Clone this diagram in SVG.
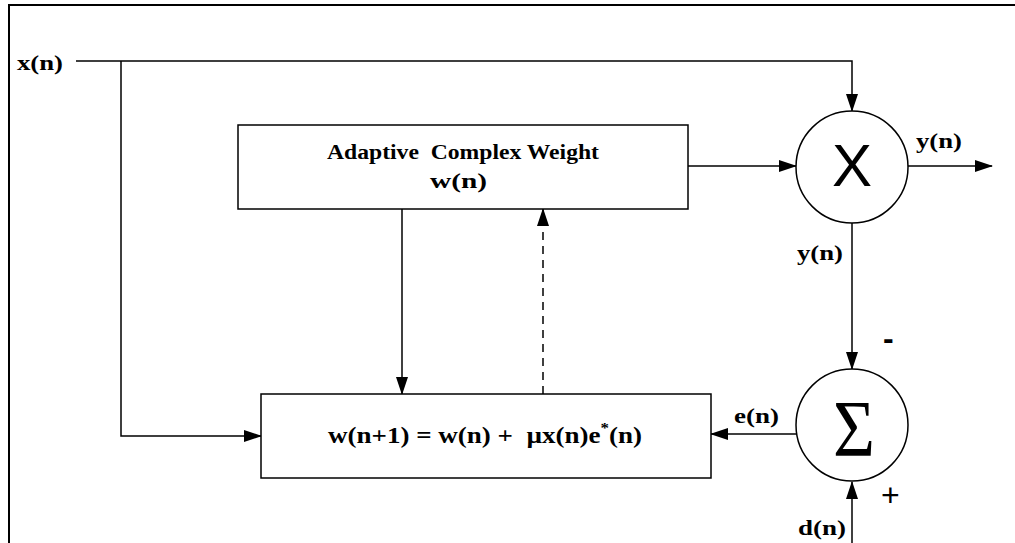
<svg xmlns="http://www.w3.org/2000/svg" width="1015" height="543" viewBox="0 0 1015 543">
<defs>
<marker id="ah" markerWidth="18" markerHeight="12" refX="17" refY="6" orient="auto" markerUnits="userSpaceOnUse">
<path d="M0,0 L18,6 L0,12 Z" fill="#000"/>
</marker>
<style>
.lbl{font-family:"Liberation Serif","Times New Roman",serif;font-weight:bold;font-size:22px;fill:#000}
.box{fill:#fff;stroke:#000;stroke-width:1.5}
.ln{fill:none;stroke:#000;stroke-width:1.5}
.sym{font-family:"Liberation Sans",Arial,sans-serif;fill:#000}
</style>
</defs>
<rect x="0" y="0" width="1015" height="543" fill="#fff"/>
<rect x="9" y="5" width="1030" height="560" fill="none" stroke="#000" stroke-width="2"/>
<g id="connectors">
<path class="ln" d="M76,61 H852 V111" marker-end="url(#ah)"/>
<path class="ln" d="M121,61 V436 H261" marker-end="url(#ah)"/>
<path class="ln" d="M688,166 H796" marker-end="url(#ah)"/>
<path class="ln" d="M908,166 H992" marker-end="url(#ah)"/>
<path class="ln" d="M402,209 V394" marker-end="url(#ah)"/>
<path class="ln" d="M543,394 V209" stroke-dasharray="8,6" marker-end="url(#ah)"/>
<path class="ln" d="M852,223 V369" marker-end="url(#ah)"/>
<path class="ln" d="M796,434 H711" marker-end="url(#ah)"/>
<path class="ln" d="M852,543 V482" marker-end="url(#ah)"/>
</g>
<g id="input-label"><text class="lbl" x="17" y="70" textLength="46" lengthAdjust="spacingAndGlyphs">x(n)</text></g>
<g id="weight-box">
<rect class="box" x="238" y="125" width="450" height="84"/>
<text class="lbl" x="327" y="159" xml:space="preserve" style="font-size:20px" textLength="272" lengthAdjust="spacingAndGlyphs">Adaptive  Complex Weight</text>
<text class="lbl" x="430" y="188" style="font-size:21px" textLength="57" lengthAdjust="spacingAndGlyphs">w(n)</text>
</g>
<g id="update-box">
<rect class="box" x="261" y="394" width="450" height="84"/>
<text class="lbl" x="328" y="443" xml:space="preserve" style="font-size:24px" textLength="314" lengthAdjust="spacingAndGlyphs">w(n+1) = w(n) +  µx(n)e<tspan dy="-10" style="font-size:15px">*</tspan><tspan dy="10">(n)</tspan></text>
</g>
<g id="multiplier">
<circle class="box" cx="852" cy="167" r="56"/>
<text class="sym" x="852" y="186" text-anchor="middle" font-size="60">X</text>
</g>
<g id="summer">
<circle class="box" cx="852" cy="425" r="56"/>
<text x="833" y="456" font-family="Liberation Serif, serif" font-size="81" textLength="42" lengthAdjust="spacingAndGlyphs">Σ</text>
</g>
<g id="labels">
<text class="lbl" x="916" y="148" textLength="46" lengthAdjust="spacingAndGlyphs">y(n)</text>
<text class="lbl" x="797" y="260" textLength="46" lengthAdjust="spacingAndGlyphs">y(n)</text>
<text class="lbl" x="734" y="423" textLength="45" lengthAdjust="spacingAndGlyphs">e(n)</text>
<text class="lbl" x="798" y="535" textLength="48" lengthAdjust="spacingAndGlyphs">d(n)</text>
<text class="sym" x="883" y="349" font-size="32" font-weight="bold">-</text>
<text class="sym" x="881" y="506" font-size="32">+</text>
</g>
</svg>
